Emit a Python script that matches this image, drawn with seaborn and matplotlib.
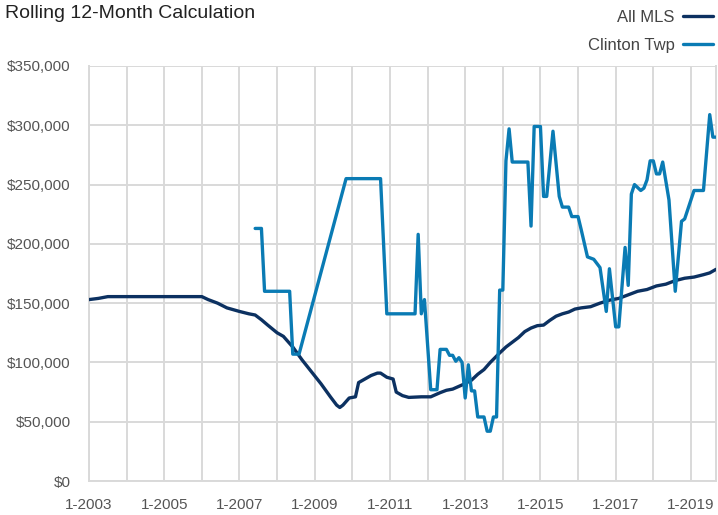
import matplotlib
matplotlib.use("Agg")
import matplotlib.pyplot as plt
import seaborn as sns
import pandas as pd
from matplotlib.ticker import FixedLocator, FuncFormatter

# ---- data (month index: 0 = Jan 2003; values in $ thousands) ----
mls_month = [0, 3, 6, 12, 24, 30, 36, 38, 41, 44, 48, 51, 53, 55, 57, 60, 62, 65, 68,
             71, 74, 77, 79, 80, 81, 83, 85, 86, 88, 90, 92, 93, 95, 97, 98, 100, 102,
             106, 109, 112, 114, 116, 119, 122, 124, 126, 128, 131, 133, 135, 137, 139,
             141, 143, 145, 147, 149, 151, 153, 155, 157, 160, 163, 166, 169, 172, 175,
             178, 181, 184, 187, 190, 193, 196, 198, 200]
mls_value = [153, 154, 155.5, 155.5, 155.5, 155.5, 155.5, 153, 150, 146, 143, 141, 140,
             136, 131.5, 125, 122, 113, 102, 92, 82, 71, 64, 62, 64, 70, 71, 83, 86, 89,
             91, 91, 87.5, 86, 75, 72, 70.5, 71, 71, 74.5, 76.5, 77.5, 81, 85, 90, 94,
             100, 108, 113, 117, 121, 126, 129, 131, 131.5, 135.5, 139, 141, 142.5, 145,
             146, 147, 150, 152.5, 154, 157, 160, 161.5, 164.5, 166, 169, 171, 172, 174,
             175.5, 178.5]

twp_month = [53, 55, 56, 64, 65, 67, 82, 93, 95, 104, 105, 106, 107, 109, 111, 112, 114,
             115, 116, 117, 118, 119, 120, 121, 122, 123, 124, 126, 127, 128, 129, 130,
             131, 132, 133, 134, 135, 140, 141, 142, 144, 145, 146, 148, 150, 151, 153,
             154, 156, 157, 159, 161, 163, 165, 166, 168, 169, 171, 172, 173, 174, 176,
             177, 178, 179, 180, 181, 182, 183, 185, 187, 189, 190, 193, 196, 198, 199,
             200]
twp_value = [213, 213, 160, 160, 107, 107, 255, 255, 141, 141, 208, 141, 153, 77, 77,
             111, 111, 106, 106, 101, 104, 100, 70, 98, 76, 76, 54, 54, 42, 42, 54, 54,
             161, 161, 270, 297, 269, 269, 215, 299, 299, 240, 240, 295, 240, 231, 231,
             223, 223, 212, 189, 187, 180, 143, 179, 130, 130, 197, 165, 242, 250, 245,
             247, 254, 270, 270, 259, 259, 269, 237, 160, 219, 221, 245, 245, 309, 290,
             290]

series_names = ["All MLS", "Clinton Twp"]
series_colors = ["#0c3161", "#0a7bb4"]

x_major = [0, 24, 48, 72, 96, 120, 144, 168, 192]
x_minor = [12, 36, 60, 84, 108, 132, 156, 180]
x_labels = ["1-2003", "1-2005", "1-2007", "1-2009", "1-2011", "1-2013", "1-2015",
            "1-2017", "1-2019"]
y_ticks = [0, 50000, 100000, 150000, 200000, 250000, 300000, 350000]

# ---- build table ----
df = pd.concat([
    pd.DataFrame({"month": mls_month, "value": [v * 1000 for v in mls_value],
                  "series": series_names[0]}),
    pd.DataFrame({"month": twp_month, "value": [v * 1000 for v in twp_value],
                  "series": series_names[1]}),
], ignore_index=True)

sns.set_theme(style="white")
plt.rcParams["font.family"] = ["Liberation Sans", "DejaVu Sans"]

W, H = 718, 515
fig = plt.figure(figsize=(W / 100, H / 100), dpi=100)
ax = fig.add_axes([89 / W, 1 - 481 / H, (716 - 89) / W, (481 - 66) / H])

grid_c = "#d9d9d9"
sns.lineplot(data=df, x="month", y="value", hue="series", hue_order=series_names,
             palette=series_colors, linewidth=2.4, ax=ax, legend=False,
             estimator=None, sort=False, zorder=3)

ax.set_xlim(0, 200)
ax.set_ylim(0, 350000)
ax.xaxis.set_major_locator(FixedLocator(x_major))
ax.xaxis.set_minor_locator(FixedLocator(x_minor))
ax.set_xticklabels(x_labels)
ax.yaxis.set_major_locator(FixedLocator(y_ticks))
ax.yaxis.set_major_formatter(FuncFormatter(lambda v, p: "${:,.0f}".format(v)))
ax.set_xlabel("")
ax.set_ylabel("")

ax.grid(True, which="both", axis="x", color=grid_c, linewidth=1.4, zorder=0)
ax.grid(True, which="major", axis="y", color=grid_c, linewidth=1.4, zorder=0)
ax.set_axisbelow(True)
ax.tick_params(which="both", length=7, width=1.4, color=grid_c, direction="out",
               labelsize=11, labelcolor="#555555", pad=5)
ax.tick_params(axis="y", pad=6)

for s in ["left", "bottom", "right"]:
    ax.spines[s].set_color(grid_c)
    ax.spines[s].set_linewidth(1.4)
ax.spines["top"].set_visible(False)

fig.text(5 / W, 1 - 13 / H, "Rolling 12-Month Calculation", fontsize=14,
         color="#222222", va="center", ha="left")

handles = ax.get_lines()[:2]
leg = fig.legend(handles, series_names, loc="upper right",
                 bbox_to_anchor=(1.0, 0.99), bbox_transform=fig.transFigure,
                 frameon=False, markerfirst=False, fontsize=12,
                 handlelength=1.8, handletextpad=0.5, labelspacing=0.75,
                 borderaxespad=0.1, borderpad=0.2)
for t in leg.get_texts():
    t.set_color("#444444")

fig.savefig("out.png", dpi=100)
